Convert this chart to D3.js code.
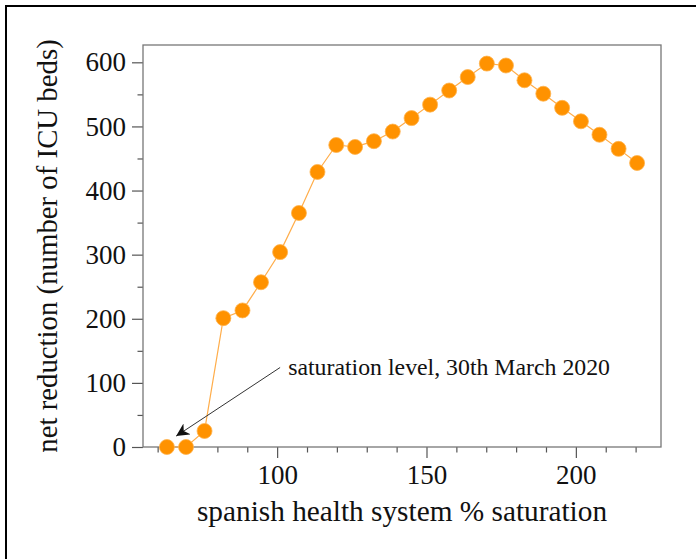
<!DOCTYPE html>
<html>
<head>
<meta charset="utf-8">
<script src="https://cdn.jsdelivr.net/npm/d3@7"></script>
<style>
  body { margin: 0; background: #fff; }
  svg { display: block; }
  text { font-family: "Liberation Serif", "DejaVu Serif", serif; fill: #111; }
</style>
</head>
<body>
<div id="wrapper"></div>
<script>
// values
const saturation = [63.1, 69.5, 75.7, 82.0, 88.4, 94.6, 101.0, 107.3, 113.5, 119.8,
  126.1, 132.4, 138.7, 145.0, 151.2, 157.6, 163.8, 170.2, 176.6, 182.8,
  189.1, 195.4, 201.7, 207.9, 214.3, 220.5];
const reduction = [0, 0, 25, 201, 213, 257, 304, 365, 429, 471,
  468, 477, 492, 513, 534, 556, 577, 598, 595, 572,
  551, 529, 508, 487, 465, 443];
const xMajorTicks = [100, 150, 200];
const xMinorTicks = [60, 70, 80, 90, 110, 120, 130, 140, 160, 170, 180, 190, 210, 220];
const yMajorTicks = [0, 100, 200, 300, 400, 500, 600];
const yMinorTicks = [50, 150, 250, 350, 450, 550];
const annotationText = "saturation level, 30th March 2020";
const annotationTip = [66.2, 17];     // data coords of arrow head
const annotationTail = [101, 124];    // data coords of arrow start
const annotationLabel = [103.7, 112]; // data coords of text start

function drawChart() {
  const dataset = saturation.map((s, i) => ({ x: s, y: reduction[i] }));

  let dimensions = {
    width: 696,
    height: 559,
    margin: { top: 45, right: 35, bottom: 112, left: 143 },
  };
  dimensions.boundedWidth = dimensions.width - dimensions.margin.left - dimensions.margin.right;
  dimensions.boundedHeight = dimensions.height - dimensions.margin.top - dimensions.margin.bottom;

  const wrapper = d3.select("#wrapper")
    .append("svg")
    .attr("width", dimensions.width)
    .attr("height", dimensions.height);

  // outer frame, runs off the right and bottom edge
  wrapper.append("rect")
    .attr("x", 6).attr("y", 6)
    .attr("width", 720).attr("height", 600)
    .attr("fill", "none")
    .attr("stroke", "#000")
    .attr("stroke-width", 2);

  const bounds = wrapper.append("g")
    .attr("transform", `translate(${dimensions.margin.left},${dimensions.margin.top})`);

  const xScale = d3.scaleLinear()
    .domain([55.1, 228.5])
    .range([0, dimensions.boundedWidth]);

  const yScale = d3.scaleLinear()
    .domain([0, 627])
    .range([dimensions.boundedHeight, 0]);

  // axes
  const tickColor = "#555";
  bounds.append("g")
    .attr("transform", `translate(0,${dimensions.boundedHeight})`)
    .call(d3.axisBottom(xScale).tickValues(xMajorTicks).tickSize(11).tickPadding(7).tickFormat(d3.format("d")));
  bounds.append("g")
    .attr("transform", `translate(0,${dimensions.boundedHeight})`)
    .call(d3.axisBottom(xScale).tickValues(xMinorTicks).tickSize(5.5).tickFormat(""));

  bounds.append("g")
    .call(d3.axisLeft(yScale).tickValues(yMajorTicks).tickSize(11).tickPadding(6).tickFormat(d3.format("d")));
  bounds.append("g")
    .call(d3.axisLeft(yScale).tickValues(yMinorTicks).tickSize(5.5).tickFormat(""));

  bounds.selectAll(".domain").remove();
  bounds.selectAll(".tick line").attr("stroke", tickColor).attr("stroke-width", 1.2);
  bounds.selectAll(".tick text")
    .style("font-family", '"Liberation Serif", serif')
    .style("font-size", "27px")
    .attr("fill", "#111");

  // plot box
  bounds.append("rect")
    .attr("width", dimensions.boundedWidth)
    .attr("height", dimensions.boundedHeight)
    .attr("fill", "none")
    .attr("stroke", "#777")
    .attr("stroke-width", 1.3);

  // line + points
  const lineGenerator = d3.line()
    .x((d) => xScale(d.x))
    .y((d) => yScale(d.y));

  bounds.append("path")
    .attr("d", lineGenerator(dataset))
    .attr("fill", "none")
    .attr("stroke", "#ffad4a")
    .attr("stroke-width", 1.2);

  bounds.selectAll("circle")
    .data(dataset)
    .join("circle")
    .attr("cx", (d) => xScale(d.x))
    .attr("cy", (d) => yScale(d.y))
    .attr("r", 7.5)
    .attr("fill", "#ff9200")
    .attr("stroke", "#ffb24d")
    .attr("stroke-width", 0.8);

  // annotation arrow
  wrapper.append("defs").append("marker")
    .attr("id", "arrowhead")
    .attr("viewBox", "0 -5 10 10")
    .attr("refX", 10).attr("refY", 0)
    .attr("markerUnits", "userSpaceOnUse")
    .attr("markerWidth", 13).attr("markerHeight", 13)
    .attr("orient", "auto")
    .append("path")
    .attr("d", "M0,-5L10,0L0,5L3,0Z")
    .attr("fill", "#111");

  bounds.append("line")
    .attr("x1", xScale(annotationTail[0]))
    .attr("y1", yScale(annotationTail[1]))
    .attr("x2", xScale(annotationTip[0]))
    .attr("y2", yScale(annotationTip[1]))
    .attr("stroke", "#333")
    .attr("stroke-width", 1)
    .attr("marker-end", "url(#arrowhead)");

  bounds.append("text")
    .attr("x", xScale(annotationLabel[0]))
    .attr("y", yScale(annotationLabel[1]))
    .style("font-size", "23.8px")
    .text(annotationText);

  // axis titles
  wrapper.append("text")
    .attr("x", dimensions.margin.left + dimensions.boundedWidth / 2)
    .attr("y", 521)
    .attr("text-anchor", "middle")
    .style("font-size", "29.3px")
    .text("spanish health system % saturation");

  wrapper.append("text")
    .attr("transform", `translate(57,${dimensions.margin.top + dimensions.boundedHeight / 2}) rotate(-90)`)
    .attr("text-anchor", "middle")
    .style("font-size", "28.8px")
    .text("net reduction (number of ICU beds)");
}

drawChart();
</script>
</body>
</html>
